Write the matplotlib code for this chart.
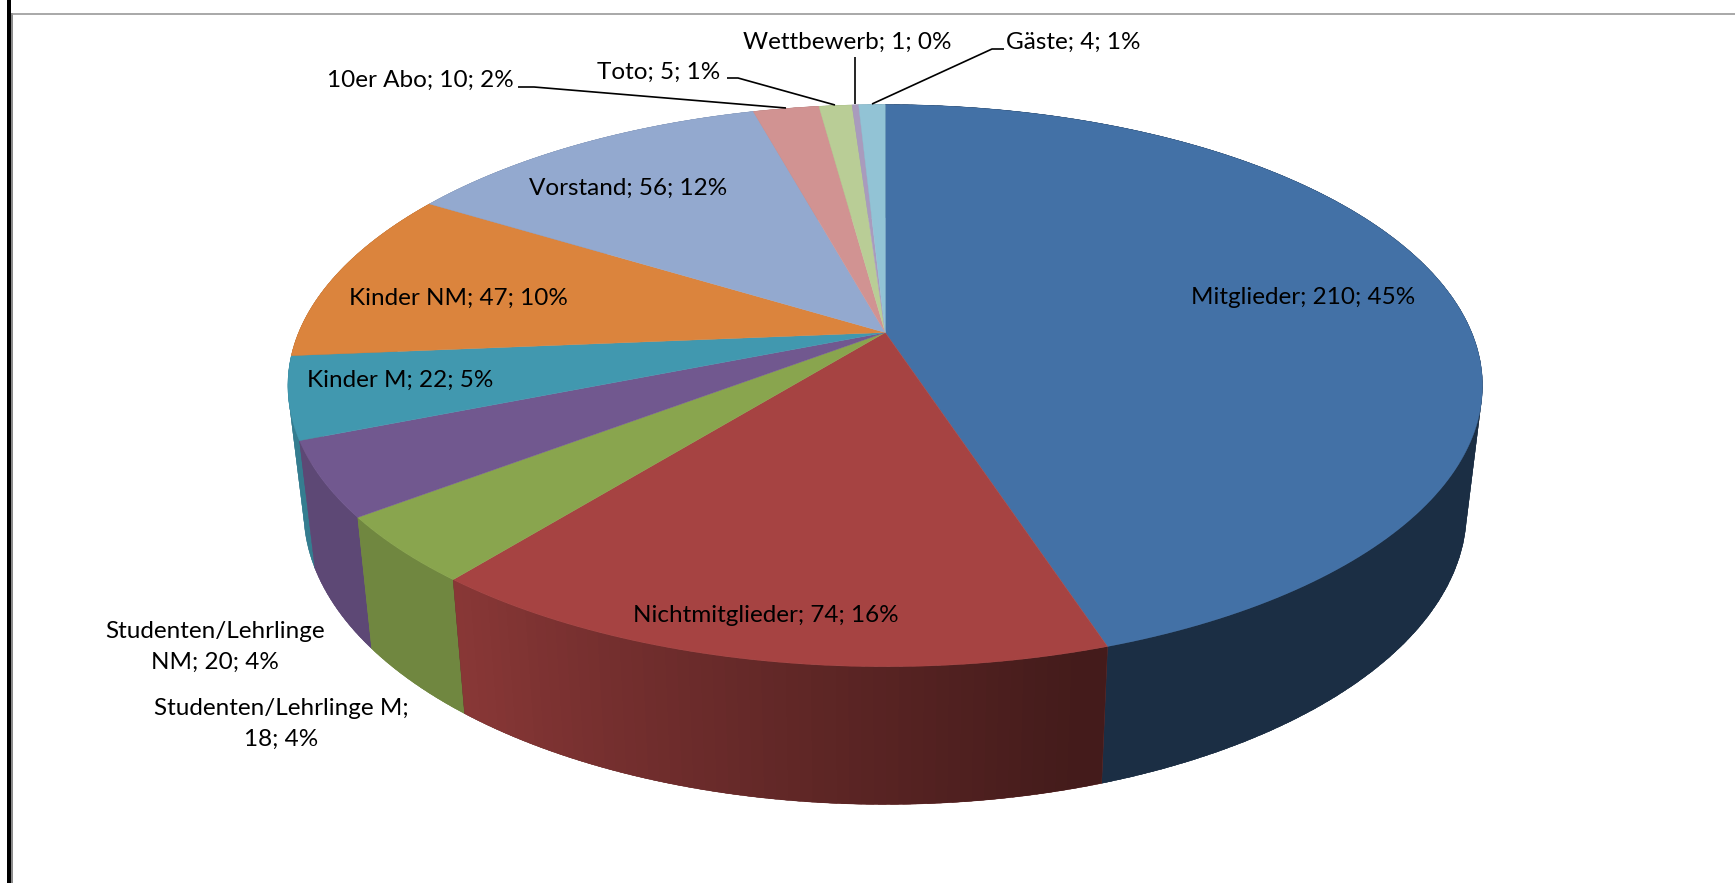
import matplotlib
matplotlib.use('Agg')
import matplotlib.pyplot as plt
from matplotlib.colors import to_rgb
import numpy as np

categories = ['Mitglieder', 'Nichtmitglieder', 'Studenten/Lehrlinge M', 'Studenten/Lehrlinge NM',
              'Kinder M', 'Kinder NM', 'Vorstand', '10er Abo', 'Toto', 'Wettbewerb', 'Gäste']
values = [210, 74, 18, 20, 22, 47, 56, 10, 5, 1, 4]
percents = [45, 16, 4, 4, 5, 10, 12, 2, 1, 0, 1]

colors = ['#4371a6', '#a64342', '#89a54e', '#71588f', '#4198af', '#db843d',
          '#93a9cf', '#d19392', '#b9cd96', '#a99bbd', '#92c3d5']

# label centres in pixels of the 1735x883 picture
label_pos = [(1303, 297), (766, 616), (281, 724), (215, 647), (400, 380), (458, 298),
             (628, 188), (420, 80), (659, 72), (847, 42), (1073, 42)]

# leader lines: start, kink, end on the pie
leaders = {
    '10er Abo': [(518, 87), (534, 87), (786, 108)],
    'Toto': [(727, 78), (738, 78), (835, 105)],
    'Wettbewerb': [(855, 57), (855, 104)],
    'Gäste': [(1004, 49), (992, 49), (872, 104)],
}

# perspective of the 3D pie
CX = 885.2
TOP_Y, TOP_A, TOP_B = 332.5, 586.5, 271.0
BOT_Y, BOT_A, BOT_B = 455.5, 571.0, 283.0
K = 0.189


def project(theta, y0, a, b):
    u, v = np.sin(theta), np.cos(theta)
    w = 1 + K * v
    return CX + a * u / w, y0 - b * v / w


def wall_shade(deg):
    # dark on the right side of the pie, lighter towards the left
    if deg <= 165:
        return 0.41
    if deg >= 218:
        return 0.82
    return 0.41 + (deg - 165) / (218 - 165) * 0.41


def wall_poly(t):
    xt, yt = project(t, TOP_Y, TOP_A, TOP_B)
    xb, yb = project(t[::-1], BOT_Y, BOT_A, BOT_B)
    return np.r_[xt, xb], np.r_[yt, yb]


fig = plt.figure(figsize=(17.35, 8.83), dpi=100)
ax = fig.add_axes([0, 0, 1, 1])
ax.set_xlim(0, 1735)
ax.set_ylim(883, 0)
ax.axis('off')

# frame of the page
ax.fill([7, 11, 11, 7], [0, 0, 883, 883], color='black', lw=0)
ax.fill([11, 13, 13, 11], [13, 13, 883, 883], color='#8c8c8c', lw=0)
ax.plot([13, 1735], [13.5, 13.5], color='#9a9a9a', lw=1.2)

edges = np.concatenate([[0], np.cumsum(values)]) / sum(values) * 2 * np.pi

# side walls, back to front; each strip overlaps the next so no seams show
order = sorted(range(len(values)), key=lambda i: -np.cos((edges[i] + edges[i + 1]) / 2))
for i in order:
    start, stop = edges[i], edges[i + 1]
    t = np.linspace(start, stop, 60)
    mid = np.degrees((start + stop) / 2)
    base = np.array(to_rgb(colors[i])) * wall_shade(mid)
    xs, ys = wall_poly(t)
    ax.fill(xs, ys, color=base, lw=0.3)
    steps = np.linspace(start, stop, max(2, int(np.degrees(stop - start)) + 1))
    for t0, t1 in zip(steps[:-1], steps[1:]):
        d = np.linspace(t0, min(t1 + 0.012, stop), 4)
        shade = np.array(to_rgb(colors[i])) * wall_shade(np.degrees((t0 + t1) / 2))
        xs, ys = wall_poly(d)
        ax.fill(xs, ys, color=shade, lw=0)

# top face
for i, c in enumerate(colors):
    t = np.linspace(edges[i], edges[i + 1], 200)
    x, y = project(t, TOP_Y, TOP_A, TOP_B)
    ax.fill(np.r_[CX, x], np.r_[TOP_Y, y], color=c, lw=0.3)

# labels
for cat, val, pct, (lx, ly) in zip(categories, values, percents, label_pos):
    label = f'{cat}; {val}; {pct}%'
    if cat == 'Studenten/Lehrlinge NM':
        label = label.replace('Lehrlinge NM', 'Lehrlinge\nNM')
    if cat == 'Studenten/Lehrlinge M':
        label = label.replace('M; 18', 'M;\n18')
    ax.text(lx, ly, label, ha='center', va='center', family='Lato', fontsize=17.5,
            color='black', linespacing=1.55)

for pts in leaders.values():
    xs, ys = zip(*pts)
    ax.plot(xs, ys, color='black', lw=1.2, solid_capstyle='butt')

fig.savefig('out.png', dpi=100)
